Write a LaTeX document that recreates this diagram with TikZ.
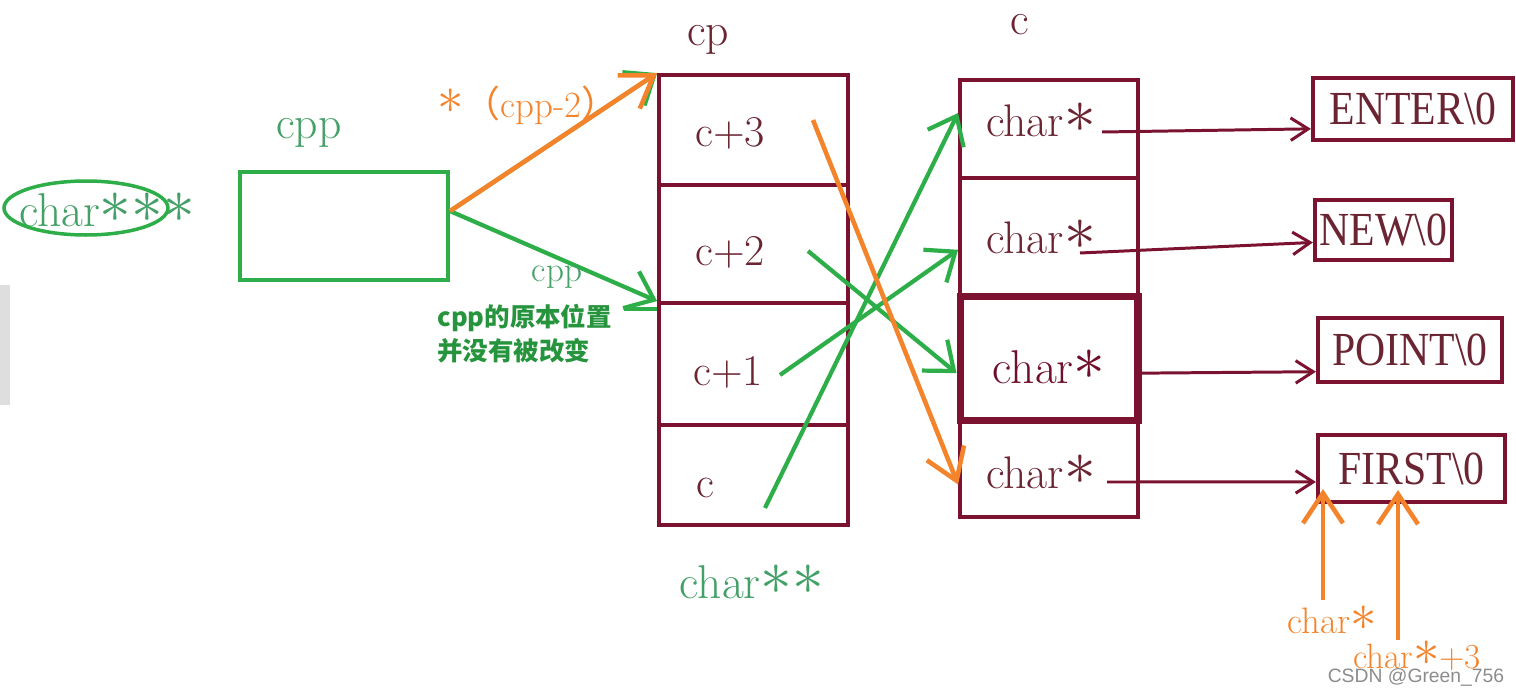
\documentclass[tikz,border=0pt]{standalone}
\usepackage{fontspec}
\usepackage{tikz}
\usetikzlibrary{arrows.meta}
\newfontfamily\cjk{Noto Sans CJK SC}
\newfontfamily\strfont[FakeStretch=0.88]{Liberation Serif}
\newfontfamily\wmfont{Liberation Sans}
\definecolor{wine}{HTML}{7A1230}
\definecolor{winetxt}{HTML}{6A2432}
\definecolor{grn}{HTML}{2DAE48}
\definecolor{grntxt}{HTML}{43A066}
\definecolor{org}{HTML}{F4842C}
\newcommand{\fs}[1]{\fontsize{#1}{#1}\selectfont}
\newcommand{\st}{\raisebox{0.1em}{\scalebox{1.45}{$\ast$}}}

\begin{document}
\begin{tikzpicture}[x=0.02cm, y=-0.02cm,
    cpcell/.style={draw=wine, line width=2.2pt, inner sep=0pt, minimum width=3.78cm},
    ccell/.style={draw=wine, line width=2.2pt, inner sep=0pt, minimum width=3.56cm},
    strbox/.style={draw=wine, line width=2.4pt, inner sep=0pt, text=winetxt, font=\strfont\fs{27}},
    wtxt/.style={text=winetxt, inner sep=0pt, font=\fs{25}},
    gtxt/.style={text=grntxt, inner sep=0pt, font=\fs{27}},
    otxt/.style={text=org, inner sep=0pt, font=\fs{21}},
    garrow/.style={draw=grn, line width=2.4pt, -{Straight Barb[length=5mm, width=8mm]}},
    oarrow/.style={draw=org, line width=2.6pt, -{Straight Barb[length=6mm, width=8mm]}},
    warrow/.style={draw=wine, line width=1.7pt, -{Straight Barb[length=3.5mm, width=4.5mm]}}]
    \useasboundingbox (0,0) rectangle (1516,693);
    \fill[black!13] (0,285) rectangle (10,405);

    \node[gtxt, font=\fs{27}] (tri) at (107,210) {char\st\st\st};
    \draw[grn, line width=2pt] (86,208) ellipse [x radius=1.64cm, y radius=0.54cm];
    \node[draw=grn, line width=2.4pt, inner sep=0pt, minimum width=4.16cm, minimum height=2.16cm] (cppbox) at (344,226) {};
    \node[gtxt, font=\fs{26}] (cpplbl) at (309,133) {cpp};

    \node[cpcell, minimum height=2.2cm]  (cp3) at (753.5,130) {};
    \node[cpcell, minimum height=2.36cm] (cp2) at (753.5,244) {};
    \node[cpcell, minimum height=2.44cm] (cp1) at (753.5,364) {};
    \node[cpcell, minimum height=2.0cm]  (cp0) at (753.5,475) {};
    \node[wtxt] (l3) at (730,133) {c+3};
    \node[wtxt] (l2) at (730,252) {c+2};
    \node[wtxt] (l1) at (728,372) {c+1};
    \node[wtxt] (l0) at (705,488) {c};
    \node[wtxt, font=\fs{26}] (cplbl) at (708,40) {cp};
    \node[gtxt, font=\fs{27}] (dbl) at (752,582) {char\st\st};

    \node[ccell, minimum height=1.96cm] (cs1) at (1049,129) {};
    \node[ccell, minimum height=2.36cm] (cs2) at (1049,237) {};
    \node[ccell, minimum height=1.94cm] (cs4) at (1049,468.5) {};
    \node[ccell, line width=4pt, minimum height=2.48cm] (cs3) at (1049,358.5) {};
    \node[wtxt, font=\fs{26}] (ct1) at (1041,120) {char\st};
    \node[wtxt, font=\fs{26}] (ct2) at (1041,237) {char\st};
    \node[wtxt, font=\fs{27}, text=wine!90!black] (ct3) at (1049,367) {char\st};
    \node[wtxt, font=\fs{26}] (ct4) at (1041,472) {char\st};
    \node[wtxt, font=\fs{26}] (clbl) at (1020,25) {c};

    \node[strbox, minimum width=4cm, minimum height=1.24cm]    (enter) at (1413,109)   {ENTER\textbackslash 0};
    \node[strbox, minimum width=2.74cm, minimum height=1.2cm]  (new)   at (1383.5,230) {NEW\textbackslash 0};
    \node[strbox, minimum width=3.68cm, minimum height=1.28cm] (point) at (1410,350)   {POINT\textbackslash 0};
    \node[strbox, minimum width=3.74cm, minimum height=1.34cm] (first) at (1411.5,468.5) {FIRST\textbackslash 0};

    \coordinate (s1) at (1102,132);
    \coordinate (s2) at (1080,253);
    \coordinate (s4) at (1107,482);
    \draw[warrow] (s1) -- (enter.191);
    \draw[warrow] (s2) -- (new.190);
    \draw[warrow] (cs3.-9) -- (point.193);
    \draw[warrow] (s4) -- (first.188);

    \draw[garrow] (cppbox.8) -- (cp1.north west);
    \draw[garrow] (cppbox.8) -- (cp3.north west);
    \draw[oarrow] (cppbox.8) -- (cp3.north west);
    \node[otxt, font=\fs{21}] (deref) at (528,105) {\st{\cjk （}cpp-2{\cjk ）}};
    \node[gtxt, font=\fs{20}] (cpp2) at (557,277) {cpp};
    \node[anchor=west, inner sep=0pt, text=grn!85!black, font=\cjk\bfseries\fs{14.5}] (note1) at (437,318) {cpp的原本位置};
    \node[anchor=west, inner sep=0pt, text=grn!85!black, font=\cjk\bfseries\fs{14.5}] (note2) at (437,351) {并没有被改变};
    \coordinate (tick) at (624,309);
    \draw[grn, line width=2.4pt] (tick) -- (tick -| cp1.west);

    \coordinate (m0) at (765,508);
    \coordinate (m1) at (780,375);
    \coordinate (m2) at (808,251);
    \coordinate (m3) at (813,120);
    \draw[garrow] (m0) -- (cs1.170);
    \draw[garrow] (m1) -- (cs2.188);
    \draw[garrow] (m2) -- (cs3.189);
    \draw[oarrow] (m3) -- (cs4.190);

    \coordinate (u1) at (1323,600);
    \coordinate (u2) at (1398,640);
    \draw[oarrow, shorten >=-0.3cm] (u1) -- (u1 |- first.south);
    \draw[oarrow, shorten >=-0.28cm] (u2) -- (u2 |- first.south);
    \node[otxt, font=\fs{21}] (ptr) at (1332,620) {char\st};
    \node[otxt, font=\fs{20}] (ptr3) at (1417,656) {char\st+3};

    \node[text=black!45, inner sep=0pt, font=\wmfont\fs{11}] (wm) at (1416,677) {CSDN @Green\_756};
\end{tikzpicture}
\end{document}
